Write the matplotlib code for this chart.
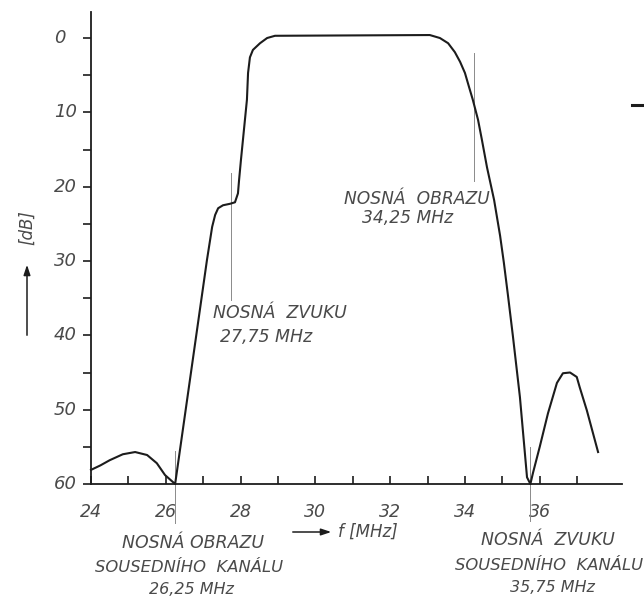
import matplotlib
matplotlib.use("Agg")
import matplotlib.pyplot as plt
from matplotlib.ticker import FixedLocator, NullFormatter, FixedFormatter

# ---- data ----
freq_mhz = [24.0, 24.25, 24.5, 24.85, 25.18, 25.5, 25.76, 25.98, 26.25,
            27.10, 27.24, 27.32, 27.40, 27.53, 27.72, 27.85, 27.93,
            27.96, 28.01, 28.17, 28.20, 28.25, 28.33, 28.52, 28.71, 28.92,
            31.0, 33.06, 33.33, 33.55, 33.73, 33.87, 34.0, 34.11, 34.21,
            34.35, 34.45, 34.59, 34.78, 34.94, 35.04, 35.15, 35.28, 35.47,
            35.66, 35.75, 35.82,
            36.0, 36.22, 36.46, 36.62, 36.81, 36.99, 37.07, 37.26, 37.56]
atten_db = [58.1, 57.5, 56.8, 56.0, 55.7, 56.1, 57.2, 58.8, 60.0,
            29.9, 25.4, 23.8, 22.9, 22.5, 22.3, 22.1, 20.9,
            19.1, 16.4, 8.3, 4.7, 2.6, 1.6, 0.7, 0.0, -0.3,
            -0.35, -0.4, 0.0, 0.7, 1.9, 3.2, 4.7, 6.6, 8.3,
            11.0, 13.6, 17.4, 21.8, 26.6, 30.2, 34.6, 40.0, 48.3,
            59.1, 60.0, 58.5,
            55.0, 50.5, 46.4, 45.1, 45.0, 45.6, 47.0, 50.1, 55.7]

y_major = [0, 10, 20, 30, 40, 50, 60]
y_major_labels = ["0", "10", "20", "30", "40", "50", "60"]
y_minor = [5, 15, 25, 35, 45, 55]
x_ticks = list(range(24, 38))
x_labels = ["24", "", "26", "", "28", "", "30", "", "32", "", "34", "", "36", ""]

# carriers: (frequency, top dB, bottom dB)
carrier_freqs = [26.25, 27.75, 34.25, 35.75]
carrier_top = [55.5, 18.2, 2.0, 55.0]
carrier_bottom = [65.3, 35.2, 19.2, 65.0]

W, H = 644, 598
TXT = "#4a4a4a"
INK = "#1c1c1c"

plt.rcParams['font.family'] = ['DejaVu Sans']

fig = plt.figure(figsize=(W / 100, H / 100), dpi=100)
fig.patch.set_facecolor("white")


def fx(x):
    return x / W


def fy(y):
    return 1 - y / H


ax = fig.add_axes([fx(91), fy(484), 531 / W, 472 / H])
ax.set_xlim(24, 38.2)
ax.set_ylim(60, -3.5)
for s in ("top", "right"):
    ax.spines[s].set_visible(False)
for s in ("left", "bottom"):
    ax.spines[s].set_linewidth(1.3)
    ax.spines[s].set_color(INK)

ax.plot(freq_mhz, atten_db, color=INK, lw=1.5, solid_joinstyle="round",
        clip_on=False, zorder=3)

for f, t, b in zip(carrier_freqs, carrier_top, carrier_bottom):
    ax.plot([f, f], [t, b], color="#8a8a8a", lw=0.7, clip_on=False, zorder=2)

# y ticks (labels drawn left-aligned as in the hand lettering)
ax.yaxis.set_major_locator(FixedLocator(y_major))
ax.yaxis.set_minor_locator(FixedLocator(y_minor))
ax.yaxis.set_major_formatter(NullFormatter())
ax.yaxis.set_minor_formatter(NullFormatter())
ax.tick_params(axis="y", which="both", direction="out", length=6,
               width=1.2, color=INK)
ytr = ax.get_yaxis_transform()
for v, lab in zip(y_major, y_major_labels):
    ax.text(-0.07, v, lab, transform=ytr, fontsize=13, style="italic",
            color=TXT, ha="left", va="center", clip_on=False)

# x ticks
ax.xaxis.set_major_locator(FixedLocator(x_ticks))
ax.xaxis.set_major_formatter(FixedFormatter(x_labels))
ax.tick_params(axis="x", which="major", direction="in", length=5.5,
               width=1.2, color=INK, pad=14, labelsize=12.5, labelcolor=TXT)
for lab in ax.get_xticklabels():
    lab.set_fontstyle("italic")

# annotations inside plot
ax.text(27.26, 37.0, "NOSNÁ  ZVUKU", fontsize=12.5, style="italic",
        color=TXT, va="center", ha="left")
ax.text(27.45, 40.2, "27,75 MHz", fontsize=12.5, style="italic",
        color=TXT, va="center", ha="left")
ax.text(34.67, 21.6, "NOSNÁ  OBRAZU", fontsize=12.3, style="italic",
        color=TXT, va="center", ha="right")
ax.text(31.25, 24.2, "34,25 MHz", fontsize=12.3, style="italic",
        color=TXT, va="center", ha="left")

# labels below the axis
ft = dict(style="italic", color=TXT, ha="center", va="center")
fig.text(fx(193), fy(543), "NOSNÁ OBRAZU", fontsize=12.5, **ft)
fig.text(fx(189), fy(568), "SOUSEDNÍHO  KANÁLU", fontsize=11.8, **ft)
fig.text(fx(191), fy(590), "26,25 MHz", fontsize=11.5, **ft)
fig.text(fx(548), fy(540), "NOSNÁ  ZVUKU", fontsize=12.5, **ft)
fig.text(fx(549), fy(565), "SOUSEDNÍHO  KANÁLU", fontsize=11.8, **ft)
fig.text(fx(552), fy(587), "35,75 MHz", fontsize=11.5, **ft)

# x-axis name with arrow
fig.add_artist(matplotlib.patches.FancyArrowPatch(
    (fx(290), fy(532)), (fx(334), fy(532)), transform=fig.transFigure,
    arrowstyle="-|>,head_length=6,head_width=2", color=INK, lw=1.1))
fig.text(fx(338), fy(532), "f [MHz]", fontsize=12, style="italic",
         color=TXT, ha="left", va="center")

# y-axis name with arrow
fig.text(fx(27), fy(228), "[dB]", fontsize=12, style="italic", color=TXT,
         rotation=90, ha="center", va="center")
fig.add_artist(matplotlib.patches.FancyArrowPatch(
    (fx(27), fy(338)), (fx(27), fy(262)), transform=fig.transFigure,
    arrowstyle="-|>,head_length=6,head_width=2", color=INK, lw=1.1))

# short stray dash at the right edge of the scan
fig.add_artist(matplotlib.lines.Line2D([fx(632), fx(644)], [fy(105), fy(105)],
                                       transform=fig.transFigure,
                                       color=INK, lw=2.2))

fig.savefig("out.png", dpi=100, facecolor="white")
